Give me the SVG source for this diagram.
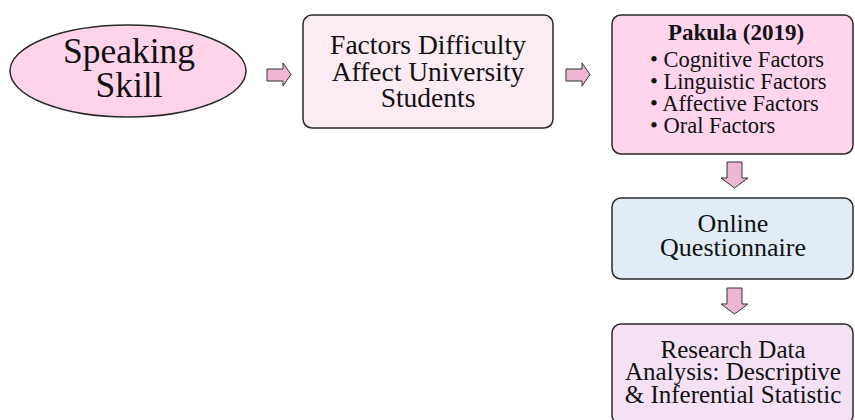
<svg xmlns="http://www.w3.org/2000/svg" width="855" height="420" viewBox="0 0 855 420">
<style>
.t{font-family:"Liberation Serif","Times New Roman",serif;fill:#111;text-anchor:middle}
.l{font-family:"Liberation Serif","Times New Roman",serif;fill:#111;font-size:22.5px}
.b{stroke:#2a2a2a;stroke-width:1.5}
.arr{fill:#EDB6D3;stroke:#333;stroke-width:1}
</style>
<rect width="855" height="420" fill="#fff"/>
<g id="speaking">
<ellipse class="b" cx="128" cy="71" rx="118" ry="46" fill="#FFD4EA"/>
<text class="t" x="129" y="63" font-size="35.5">Speaking</text>
<text class="t" x="129" y="97" font-size="35.5">Skill</text>
</g>
<g id="factors">
<rect class="b" x="303" y="15" width="250" height="113" rx="9" fill="#FBEBF3"/>
<text class="t" x="428" y="54" font-size="27.5">Factors Difficulty</text>
<text class="t" x="428" y="81" font-size="27.5">Affect University</text>
<text class="t" x="428" y="107" font-size="27.5">Students</text>
</g>
<g id="pakula">
<rect class="b" x="612" y="15" width="241" height="139" rx="9" fill="#FFD5EE"/>
<text class="t" x="736" y="40" font-size="23" font-weight="bold">Pakula (2019)</text>
<text class="l" x="650" y="67">• Cognitive Factors</text>
<text class="l" x="650" y="89">• Linguistic Factors</text>
<text class="l" x="650" y="111">• Affective Factors</text>
<text class="l" x="650" y="133">• Oral Factors</text>
</g>
<g id="online">
<rect class="b" x="612" y="198" width="241" height="81" rx="9" fill="#E1ECF6"/>
<text class="t" x="733" y="232" font-size="26">Online</text>
<text class="t" x="733" y="256" font-size="26">Questionnaire</text>
</g>
<g id="analysis">
<rect class="b" x="612" y="324" width="241" height="100" rx="9" fill="#F4E2F4"/>
<text class="t" x="733" y="358" font-size="25">Research Data</text>
<text class="t" x="733" y="380" font-size="25">Analysis: Descriptive</text>
<text class="t" x="733" y="403" font-size="25">&amp; Inferential Statistic</text>
</g>
<g id="connectors">
<path class="arr" d="M267,69 H283 V63 L291,74.5 L283,86 V81 H267 Z"/>
<path class="arr" d="M566,69 H582 V63 L590,74.5 L582,86 V81 H566 Z"/>
<path class="arr" d="M727,162 H742 V178 H748 L734.5,188 L721,178 H727 Z"/>
<path class="arr" d="M727,288 H742 V304 H748 L734.5,314 L721,304 H727 Z"/>
</g>
</svg>
